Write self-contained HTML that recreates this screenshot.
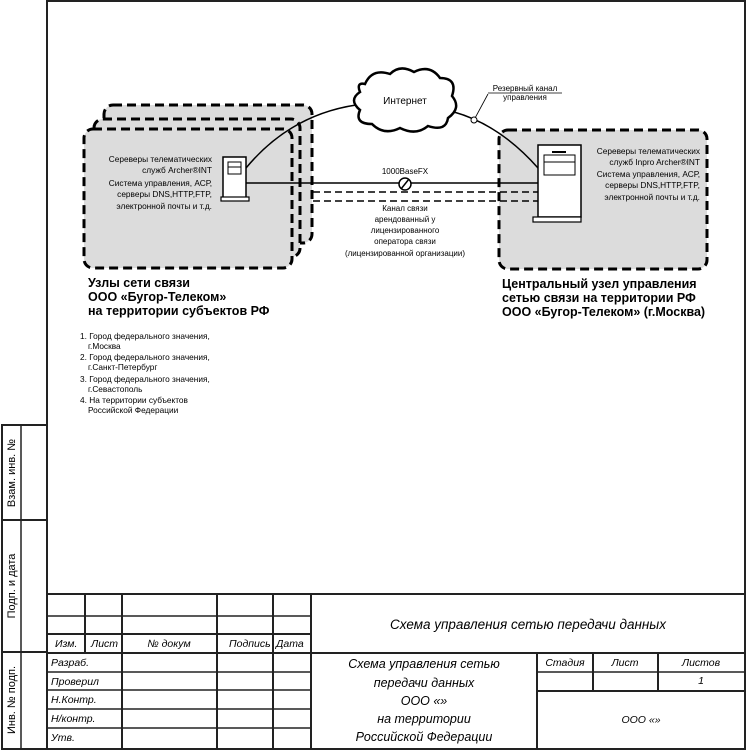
<!DOCTYPE html>
<html><head><meta charset="utf-8"><style>
html,body{margin:0;padding:0;background:#fff;width:748px;height:752px;overflow:hidden}
svg{display:block}
text{font-family:"Liberation Sans",Arial,sans-serif;fill:#000}
.it{font-style:italic}
</style></head><body>
<svg width="748" height="752" viewBox="0 0 748 752" xmlns="http://www.w3.org/2000/svg">
<!-- frame -->
<g stroke="#222" stroke-width="2" fill="none">
<polyline points="47,749 47,1 745,1 745,749 2,749 2,425 47,425"/>
<line x1="21" y1="425" x2="21" y2="749" stroke-width="1.5"/>
<line x1="2" y1="520" x2="47" y2="520"/>
<line x1="2" y1="652" x2="47" y2="652"/>
<!-- title block -->
<line x1="47" y1="594" x2="745" y2="594"/>
<line x1="47" y1="616" x2="311" y2="616" stroke-width="1.5"/>
<line x1="47" y1="634" x2="311" y2="634"/>
<line x1="47" y1="653" x2="745" y2="653"/>
<line x1="47" y1="672" x2="311" y2="672" stroke-width="1.5"/>
<line x1="47" y1="690" x2="311" y2="690" stroke-width="1.5"/>
<line x1="47" y1="709" x2="311" y2="709" stroke-width="1.5"/>
<line x1="47" y1="728" x2="311" y2="728" stroke-width="1.5"/>
<line x1="85" y1="594" x2="85" y2="653"/>
<line x1="122" y1="594" x2="122" y2="749"/>
<line x1="217" y1="594" x2="217" y2="749"/>
<line x1="273" y1="594" x2="273" y2="749"/>
<line x1="311" y1="594" x2="311" y2="749"/>
<line x1="537" y1="653" x2="537" y2="749"/>
<line x1="593" y1="653" x2="593" y2="691"/>
<line x1="658" y1="653" x2="658" y2="691"/>
<line x1="537" y1="672" x2="745" y2="672" stroke-width="1.5"/>
<line x1="537" y1="691" x2="745" y2="691"/>
</g>
<g font-size="11">
<text transform="translate(15,473) rotate(-90)" text-anchor="middle">Взам. инв. №</text>
<text transform="translate(15,586) rotate(-90)" text-anchor="middle">Подп. и дата</text>
<text transform="translate(15,700) rotate(-90)" text-anchor="middle">Инв. № подп.</text>
</g>
<g class="it" font-size="10.5">
<text x="55" y="647">Изм.</text>
<text x="91" y="647">Лист</text>
<text x="169" y="647" text-anchor="middle">№ докум</text>
<text x="229" y="647">Подпись</text>
<text x="276" y="647">Дата</text>
<text x="51" y="666">Разраб.</text>
<text x="51" y="685">Проверил</text>
<text x="51" y="703">Н.Контр.</text>
<text x="51" y="722">Н/контр.</text>
<text x="51" y="741">Утв.</text>
<text x="528" y="629" text-anchor="middle" font-size="13.5">Схема управления сетью передачи данных</text>
<g font-size="12.5" text-anchor="middle">
<text x="424" y="668">Схема управления сетью</text>
<text x="424" y="687">передачи данных</text>
<text x="424" y="705">ООО «»</text>
<text x="424" y="723">на территории</text>
<text x="424" y="741">Российской Федерации</text>
</g>
<text x="565" y="666" text-anchor="middle">Стадия</text>
<text x="625" y="666" text-anchor="middle">Лист</text>
<text x="701" y="666" text-anchor="middle">Листов</text>
<text x="701" y="684" text-anchor="middle">1</text>
<text x="641" y="723" text-anchor="middle">ООО «»</text>
</g>

<!-- left stacked boxes -->
<g stroke="#000" stroke-width="3" stroke-dasharray="9,5" fill="#dcdcdc">
<rect x="104" y="105" width="208" height="138" rx="9"/>
<rect x="94" y="119" width="206" height="138" rx="9"/>
<rect x="84" y="129" width="208" height="139" rx="9"/>
<rect x="499" y="130" width="208" height="139" rx="9"/>
</g>

<!-- links -->
<g stroke="#000" fill="none">
<path d="M246,168 Q290,115 356,105" stroke-width="1.5"/>
<path d="M454,112 Q500,125 538,168" stroke-width="1.5"/>
<line x1="246" y1="183" x2="538" y2="183" stroke-width="1.5"/>
<line x1="313" y1="192" x2="538" y2="192" stroke-width="1.5" stroke-dasharray="7,4"/>
<line x1="313" y1="201" x2="538" y2="201" stroke-width="1.5" stroke-dasharray="7,4"/>
<line x1="474" y1="120" x2="488" y2="94" stroke-width="0.8"/>
<line x1="488" y1="93" x2="562" y2="93" stroke-width="0.8"/>
</g>
<circle cx="474" cy="120" r="3" fill="#fff" stroke="#000"/>
<circle cx="405" cy="184" r="6" fill="#fff" stroke="#000" stroke-width="1.5"/>
<line x1="401" y1="189" x2="409" y2="179" stroke="#000" stroke-width="1.5"/>

<!-- cloud -->
<path d="M365,84 Q372,68 390,74 Q400,64 414,72 Q430,64 440,78 Q458,78 452,96 Q462,108 448,118 Q446,132 428,126 Q416,136 400,128 Q384,136 372,124 Q354,124 360,110 Q348,100 360,92 Q356,82 365,84 Z" fill="#fff" stroke="#000" stroke-width="2.5"/>
<text x="405" y="104" font-size="10" text-anchor="middle">Интернет</text>

<!-- left server -->
<g stroke="#000" fill="#fff">
<rect x="223" y="157" width="23" height="41" stroke-width="1.5"/>
<rect x="221" y="197" width="28" height="4" stroke-width="1.2"/>
<rect x="228" y="162" width="13" height="12" stroke-width="1"/>
<line x1="228" y1="167" x2="241" y2="167" stroke-width="1"/>
</g>
<!-- right server -->
<g stroke="#000" fill="#fff">
<rect x="538" y="145" width="43" height="72" stroke-width="1.5"/>
<rect x="533" y="217" width="48" height="5" stroke-width="1.2"/>
<rect x="544" y="155" width="31" height="20" stroke-width="1"/>
<line x1="544" y1="162" x2="575" y2="162" stroke-width="1"/>
<line x1="552" y1="152" x2="566" y2="152" stroke-width="2"/>
</g>

<g font-size="8.3" text-anchor="end">
<text x="212" y="162">Сереверы телематических</text>
<text x="212" y="173">служб Archer®INT</text>
<text x="212" y="186">Система управления, АСР,</text>
<text x="212" y="197">серверы DNS,HTTP,FTP,</text>
<text x="212" y="209">электронной почты и т.д.</text>
<text x="700" y="154">Сереверы телематических</text>
<text x="700" y="165">служб Inpro Archer®INT</text>
<text x="700" y="177">Система управления, АСР,</text>
<text x="700" y="188">серверы DNS,HTTP,FTP,</text>
<text x="700" y="200">электронной почты и т.д.</text>
</g>
<g font-size="8" text-anchor="middle">
<text x="405" y="174">1000BaseFX</text>
<text x="405" y="211">Канал связи</text>
<text x="405" y="222">арендованный у</text>
<text x="405" y="233">лицензированного</text>
<text x="405" y="244">оператора связи</text>
<text x="405" y="256">(лицензированной организации)</text>
<text x="525" y="91">Резервный канал</text>
<text x="525" y="100">управления</text>
</g>
<g font-size="12.5" font-weight="bold">
<text x="88" y="287">Узлы сети связи</text>
<text x="88" y="301">ООО «Бугор-Телеком»</text>
<text x="88" y="315">на территории субъектов РФ</text>
<text x="502" y="288">Центральный узел управления</text>
<text x="502" y="302">сетью связи на территории РФ</text>
<text x="502" y="316">ООО «Бугор-Телеком» (г.Москва)</text>
</g>
<g font-size="8.3">
<text x="80" y="339">1. Город федерального значения,</text>
<text x="88" y="349">г.Москва</text>
<text x="80" y="360">2. Город федерального значения,</text>
<text x="88" y="370">г.Санкт-Петербург</text>
<text x="80" y="382">3. Город федерального значения,</text>
<text x="88" y="392">г.Севастополь</text>
<text x="80" y="403">4. На территории субъектов</text>
<text x="88" y="413">Российской Федерации</text>
</g>
</svg>
</body></html>
